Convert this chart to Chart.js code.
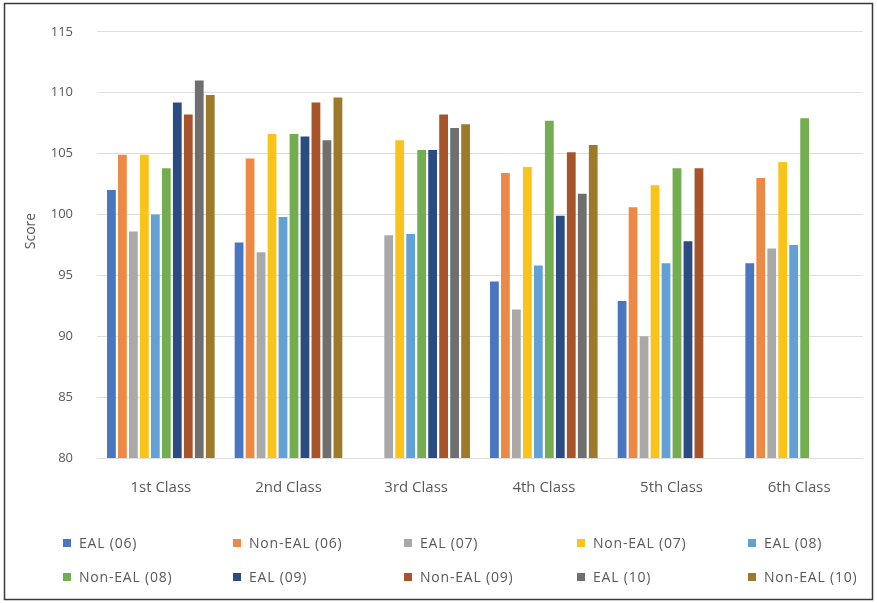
<!DOCTYPE html>
<html>
<head>
<meta charset="utf-8">
<title>Score by class</title>
<script src="https://cdn.jsdelivr.net/npm/chart.js@4.4.1/dist/chart.umd.min.js"></script>
<style>
  html, body { margin: 0; padding: 0; background: #fff; }
  #wrap { position: relative; width: 877px; height: 603px; }
</style>
</head>
<body>
<div id="wrap"><canvas id="chart" width="877" height="603"></canvas></div>
<script>
// Categories along the x axis
const classes = ['1st Class', '2nd Class', '3rd Class', '4th Class', '5th Class', '6th Class'];

// Mean scores per cohort (null = no data for that class)
const eal06    = [102.0,  97.7, null,  94.5,  92.9,  96.0];
const nonEal06 = [104.9, 104.6, null, 103.4, 100.6, 103.0];
const eal07    = [ 98.6,  96.9,  98.3,  92.2,  90.0,  97.2];
const nonEal07 = [104.9, 106.6, 106.1, 103.9, 102.4, 104.3];
const eal08    = [100.0,  99.8,  98.4,  95.8,  96.0,  97.5];
const nonEal08 = [103.8, 106.6, 105.3, 107.7, 103.8, 107.9];
const eal09    = [109.2, 106.4, 105.3,  99.9,  97.8, null];
const nonEal09 = [108.2, 109.2, 108.2, 105.1, 103.8, null];
const eal10    = [111.0, 106.1, 107.1, 101.7, null,  null];
const nonEal10 = [109.8, 109.6, 107.4, 105.7, null,  null];

// Value axis ticks
const yTicks = [80, 85, 90, 95, 100, 105, 110, 115];

const seriesNames = ['EAL (06)', 'Non-EAL (06)', 'EAL (07)', 'Non-EAL (07)', 'EAL (08)',
                     'Non-EAL (08)', 'EAL (09)', 'Non-EAL (09)', 'EAL (10)', 'Non-EAL (10)'];
const seriesData = [eal06, nonEal06, eal07, nonEal07, eal08, nonEal08, eal09, nonEal09, eal10, nonEal10];
const seriesColors = ['#4a75c0', '#ec8a45', '#a9a9a9', '#f9c31a', '#62a0d6',
                      '#72ad4f', '#2b4c82', '#a8542a', '#6f6f6f', '#9c7a2a'];

const textColor = '#595959';
const fontFamily = '"Open Sans", Lato, sans-serif';

// Legend laid out in a fixed 5-column grid under the plot
const gridLegend = {
  id: 'gridLegend',
  afterDraw(chart) {
    const ctx = chart.ctx;
    const colX = [63, 233, 404, 577, 748];
    const rowY = [543, 577];
    ctx.save();
    ctx.font = '14px ' + fontFamily;
    ctx.letterSpacing = '0.8px';
    ctx.textBaseline = 'middle';
    ctx.textAlign = 'left';
    chart.data.datasets.forEach((ds, i) => {
      const x = colX[i % 5];
      const y = rowY[Math.floor(i / 5)];
      ctx.fillStyle = ds.backgroundColor;
      ctx.fillRect(x, y - 4, 8, 8);
      ctx.fillStyle = textColor;
      ctx.fillText(ds.label, x + 16, y + 1);
    });
    ctx.restore();
  }
};

// Value axis title, placed beside the tick labels
const axisTitle = {
  id: 'axisTitle',
  afterDraw(chart) {
    const ctx = chart.ctx;
    ctx.save();
    ctx.translate(31, 231);
    ctx.rotate(-Math.PI / 2);
    ctx.font = '14px ' + fontFamily;
    ctx.fillStyle = textColor;
    ctx.textAlign = 'center';
    ctx.textBaseline = 'middle';
    ctx.fillText('Score', 0, 0);
    ctx.restore();
  }
};

// White background and outer frame
const frame = {
  id: 'frame',
  beforeDraw(chart) {
    const ctx = chart.ctx;
    ctx.save();
    ctx.fillStyle = '#ffffff';
    ctx.fillRect(0, 0, chart.width, chart.height);
    ctx.restore();
  },
  afterDraw(chart) {
    const ctx = chart.ctx;
    ctx.save();
    ctx.strokeStyle = '#3a3a3a';
    ctx.lineWidth = 1.5;
    ctx.strokeRect(4.5, 3.5, 868, 596);
    ctx.restore();
  }
};

new Chart(document.getElementById('chart'), {
  type: 'bar',
  data: {
    labels: classes,
    datasets: seriesNames.map((name, i) => ({
      label: name,
      data: seriesData[i],
      backgroundColor: seriesColors[i],
      borderWidth: 0,
      categoryPercentage: 0.86,
      barPercentage: 0.8
    }))
  },
  options: {
    responsive: false,
    animation: false,
    layout: { padding: { top: 29, left: 0, right: 14, bottom: 95 } },
    plugins: {
      legend: { display: false },
      tooltip: { enabled: false }
    },
    scales: {
      x: {
        grid: { display: false, drawTicks: false },
        border: { display: false },
        ticks: { color: textColor, font: { family: fontFamily, size: 15 }, padding: 21 },
        afterFit(scale) { scale.height = 50; }
      },
      y: {
        min: 80,
        max: 115,
        afterBuildTicks(scale) { scale.ticks = yTicks.map(v => ({ value: v })); },
        grid: { color: '#dedede', drawTicks: false, lineWidth: 1 },
        border: { display: false },
        ticks: { color: textColor, font: { family: fontFamily, size: 13 }, padding: 24 },
        title: { display: false },
        afterFit(scale) { scale.width = 97; }
      }
    }
  },
  plugins: [frame, axisTitle, gridLegend]
});
</script>
</body>
</html>
